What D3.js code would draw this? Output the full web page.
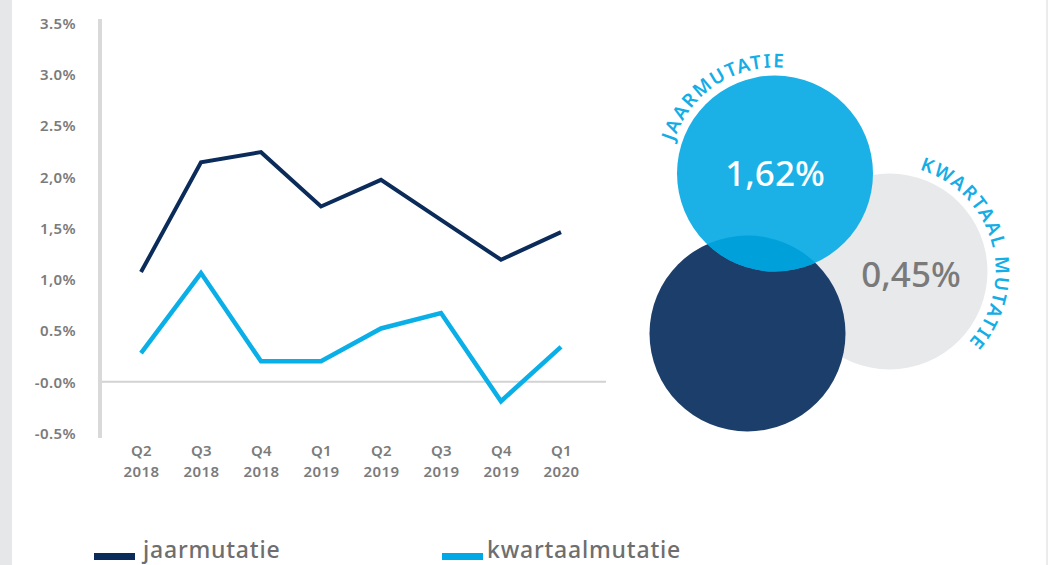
<!DOCTYPE html>
<html>
<head>
<meta charset="utf-8">
<script src="https://cdn.jsdelivr.net/npm/d3@7"></script>
<style>
  body { margin: 0; background: #fff; }
  svg { display: block; font-family: "Noto Sans", "Open Sans", sans-serif; }
</style>
</head>
<body>
<div id="chart"></div>
<script>
const WIDTH = 1048;
const HEIGHT = 565;

// quarters on the x axis
const quarters = ["Q2", "Q3", "Q4", "Q1", "Q2", "Q3", "Q4", "Q1"];
const years = ["2018", "2018", "2018", "2019", "2019", "2019", "2019", "2020"];

// series values in %
const jaarmutatie = [1.07, 2.14, 2.24, 1.71, 1.97, 1.58, 1.19, 1.46];
const kwartaalmutatie = [0.28, 1.06, 0.20, 0.20, 0.52, 0.67, -0.19, 0.34];

// y ticks, labels exactly as printed
const yTicks = [3.5, 3.0, 2.5, 2.0, 1.5, 1.0, 0.5, 0.0, -0.5];
const yTickLabels = ["3.5%", "3.0%", "2.5%", "2,0%", "1,5%", "1,0%", "0.5%", "-0.0%", "-0.5%"];

// bubbles on the right
const bubbleLabels = ["JAARMUTATIE", "KWARTAAL MUTATIE"];
const bubbleValues = ["1,62%", "0,45%"];

const legendLabels = ["jaarmutatie", "kwartaalmutatie"];

const DARK = "#0b2c5a";
const LIGHT = "#0aafe7";
const LABEL_GREY = "#7b7b7b";

let svg = d3
  .select("#chart")
  .append("svg")
  .attr("width", WIDTH)
  .attr("height", HEIGHT);

// grey strips at the page edges
svg.append("rect").attr("x", 0).attr("y", 0).attr("width", 12).attr("height", HEIGHT).attr("fill", "#e6e7e9");
svg.append("rect").attr("x", 1046).attr("y", 0).attr("width", 2).attr("height", HEIGHT).attr("fill", "#ececec");

/**
 * Line chart
 */
let x = d3.scalePoint()
  .domain(d3.range(quarters.length))
  .range([141, 561]);

let y = d3.scaleLinear()
  .domain([-0.5, 3.5])
  .range([433, 23]);

// y axis labels
let yAxis = svg.append("g")
  .attr("transform", "translate(100,0)")
  .call(d3.axisLeft(y)
    .tickValues(yTicks)
    .tickFormat((d, i) => yTickLabels[i])
    .tickSize(0)
    .tickPadding(24));
yAxis.select(".domain").remove();
yAxis.selectAll("text")
  .attr("fill", LABEL_GREY)
  .style("font-family", "'Noto Sans', sans-serif")
  .style("font-size", "15px")
  .style("font-weight", 600)
  .style("letter-spacing", "0.4px")
  .attr("dy", "0.36em");

// vertical axis bar
svg.append("line")
  .attr("x1", 100).attr("x2", 100)
  .attr("y1", 19).attr("y2", 438)
  .attr("stroke", "#d9d9d9")
  .attr("stroke-width", 4);

// zero line
svg.append("line")
  .attr("x1", 102).attr("x2", 606)
  .attr("y1", y(0)).attr("y2", y(0))
  .attr("stroke", "#d2d2d2")
  .attr("stroke-width", 2);

// x axis labels (two lines)
let xAxis = svg.append("g")
  .attr("transform", "translate(0,440)")
  .call(d3.axisBottom(x).tickSize(0).tickFormat(""));
xAxis.select(".domain").remove();
xAxis.selectAll(".tick text").remove();
xAxis.selectAll(".tick").each(function (d) {
  let t = d3.select(this).append("text")
    .attr("fill", LABEL_GREY)
    .attr("text-anchor", "middle")
    .style("font-family", "'Noto Sans', sans-serif")
    .style("font-size", "15px")
    .style("font-weight", 600)
    .style("letter-spacing", "0.4px");
  t.append("tspan").attr("x", 0).attr("y", 16).text(quarters[d]);
  t.append("tspan").attr("x", 0).attr("y", 37).text(years[d]);
});

let line = d3.line()
  .x((d, i) => x(i))
  .y((d) => y(d));

svg.append("path")
  .datum(jaarmutatie)
  .attr("d", line)
  .attr("fill", "none")
  .attr("stroke", DARK)
  .attr("stroke-width", 4)
  .attr("stroke-linejoin", "miter");

svg.append("path")
  .datum(kwartaalmutatie)
  .attr("d", line)
  .attr("fill", "none")
  .attr("stroke", LIGHT)
  .attr("stroke-width", 4.5)
  .attr("stroke-linejoin", "miter");

/**
 * Legend
 */
let legend = svg.append("g").attr("class", "legend");
let legendX = [94, 442];
let legendColors = [DARK, "#00a9e6"];
legendLabels.forEach(function (label, i) {
  legend.append("rect")
    .attr("x", legendX[i]).attr("y", 553)
    .attr("width", 41).attr("height", 7)
    .attr("fill", legendColors[i]);
  legend.append("text")
    .attr("x", legendX[i] + (i == 0 ? 49 : 45))
    .attr("y", 558)
    .attr("fill", "#6e6e6e")
    .style("font-size", "23px")
    .style("font-weight", 500)
    .style("letter-spacing", "0.8px")
    .text(label);
});

/**
 * Bubbles
 */
let bubbles = svg.append("g").attr("class", "bubbles");
let R = 98;
let grey = { cx: 889.5, cy: 271.5 };
let dark = { cx: 747.5, cy: 333.5 };
let blue = { cx: 775, cy: 173.5 };

bubbles.append("circle").attr("cx", grey.cx).attr("cy", grey.cy).attr("r", R).attr("fill", "#e8e9eb");
bubbles.append("circle").attr("cx", dark.cx).attr("cy", dark.cy).attr("r", R).attr("fill", "#1c3e6a");
bubbles.append("circle").attr("cx", blue.cx).attr("cy", blue.cy).attr("r", R).attr("fill", "#1bb1e7");

// overlap of blue and dark
let defs = svg.append("defs");
defs.append("clipPath").attr("id", "blueClip")
  .append("circle").attr("cx", blue.cx).attr("cy", blue.cy).attr("r", R);
bubbles.append("circle")
  .attr("cx", dark.cx).attr("cy", dark.cy).attr("r", R)
  .attr("fill", "#00a0da")
  .attr("clip-path", "url(#blueClip)");

bubbles.append("text")
  .attr("x", blue.cx).attr("y", 186)
  .attr("text-anchor", "middle")
  .attr("fill", "#fff")
  .style("font-size", "35px")
  .style("font-weight", 500)
  .text(bubbleValues[0]);

bubbles.append("text")
  .attr("x", 911).attr("y", 287)
  .attr("text-anchor", "middle")
  .attr("fill", "#7a7a7a")
  .style("font-size", "35px")
  .style("font-weight", 500)
  .text(bubbleValues[1]);

// curved labels
function arcPath(c, r, a0, a1) {
  let rad = Math.PI / 180;
  let p0 = [c.cx + r * Math.sin(a0 * rad), c.cy - r * Math.cos(a0 * rad)];
  let p1 = [c.cx + r * Math.sin(a1 * rad), c.cy - r * Math.cos(a1 * rad)];
  let large = a1 - a0 > 180 ? 1 : 0;
  return "M" + p0[0] + "," + p0[1] + " A" + r + "," + r + " 0 " + large + " 1 " + p1[0] + "," + p1[1];
}

let arcs = [
  { c: blue, mid: -33.5, id: "arcJaar" },
  { c: grey, mid: 74.5, id: "arcKwartaal" },
];
arcs.forEach(function (a, i) {
  defs.append("path").attr("id", a.id).attr("d", arcPath(a.c, 106, a.mid - 120, a.mid + 120));
  bubbles.append("text")
    .attr("fill", "#14ade6")
    .style("font-size", "19px")
    .style("font-weight", 600)
    .style("letter-spacing", "1.8px")
    .append("textPath")
    .attr("href", "#" + a.id)
    .attr("startOffset", "50%")
    .attr("text-anchor", "middle")
    .text(bubbleLabels[i]);
});
</script>
</body>
</html>
